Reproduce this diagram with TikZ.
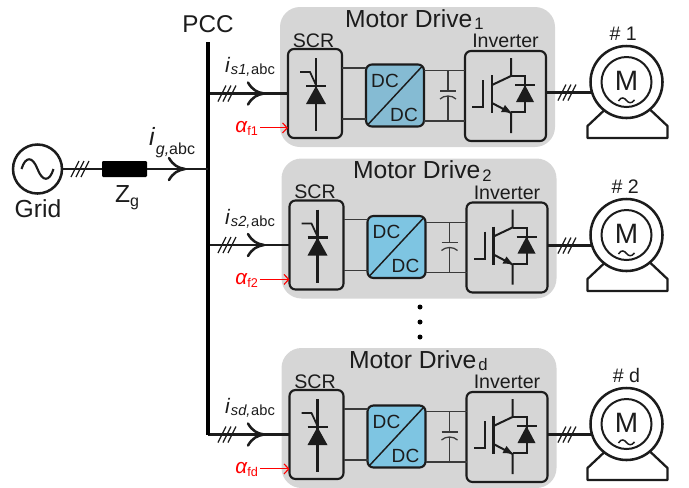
\documentclass[tikz,border=0pt]{standalone}
\usepackage{fontspec}
\setmainfont{Liberation Sans}
\usetikzlibrary{calc,arrows.meta}
\newcommand\pxu{0.75pt}
\newcommand\fsz[1]{\fontsize{#1}{#1}\selectfont}
\definecolor{drivegray}{HTML}{D6D6D6}
\definecolor{inkdark}{HTML}{1C1C1C}
\definecolor{wiregray}{HTML}{3A3A3A}
\definecolor{dcblueA}{HTML}{85BBD3}
\definecolor{dcblueB}{HTML}{7EC5E2}
\tikzset{
  x=0.75pt,y=-0.75pt,
  power/.style={draw=inkdark,line width=1.9pt},
  wire/.style={draw=wiregray,line width=0.95pt},
  sym/.style={draw=inkdark,line width=1.7pt},
  hashline/.style={draw=inkdark,line width=0.9pt},
  labeltext/.style={inner sep=0pt,outer sep=0pt,text=inkdark},
  graybox/.style={rectangle,fill=drivegray,rounded corners=15pt,minimum width=275*\pxu,minimum height=140*\pxu,inner sep=0pt,outer sep=0pt},
  blockbox/.style={rectangle,draw=inkdark,line width=1.6pt,rounded corners=4.5pt,inner sep=0pt,outer sep=0pt},
  motorring/.style={circle,draw=inkdark,fill=white,line width=1.9pt,minimum size=72*\pxu,inner sep=0pt,outer sep=0pt},
  rotorring/.style={circle,draw=inkdark,line width=1.5pt,minimum size=50*\pxu,inner sep=0pt,outer sep=0pt},
  hashmark/.pic={
    \draw[hashline] (-9,8) -- (-1,-8) (-4,8) -- (4,-8) (1,8) -- (9,-8);
  },
  chevron/.pic={
    \draw[power,line cap=round,line join=round] (-16,-11) .. controls (-12,-4) and (-7,-1) .. (0,0) .. controls (-7,1) and (-12,4) .. (-16,11);
  },
}
% #1 suffix, #2 dx, #3 dy, #4 title x, #5 subscript, #6 blue, #7 motor label, #8 motor y, #9 current subscript
\newcommand\drivegroup[9]{
  \begin{scope}[shift={(#2,#3)}]
    \node[graybox] (drive#1) at (417.5,77) {};
    \node[blockbox,minimum width=54*\pxu,minimum height=89*\pxu] (scr#1) at (315,93.5) {};
    \node[blockbox,fill=#6,minimum width=58*\pxu,minimum height=62*\pxu] (dc#1) at (395,95.5) {};
    \node[blockbox,minimum width=81*\pxu,minimum height=90*\pxu] (inv#1) at (505.5,96) {};
    \node[labeltext,anchor=base west] (title#1) at (#4,27) {\fsz{18.5}Motor Drive\kern1.5pt\raisebox{-2pt}{\fsz{12.5}#5}};
    \node[labeltext,anchor=base] (scrlabel#1) at (313.5,47) {\fsz{14.7}SCR};
    \node[labeltext,anchor=base] (invlabel#1) at (505.5,47.5) {\fsz{14.7}Inverter};
    \node[labeltext,anchor=base] (dctop#1) at (385,87) {\fsz{14.3}DC};
    \node[labeltext,anchor=base] (dcbot#1) at (404,121) {\fsz{14.3}DC};
    \draw[wire] ([yshift=19.1pt]scr#1.east) -- ([yshift=19.1pt]scr#1.east -| dc#1.west);
    \draw[wire] ([yshift=-19.1pt]scr#1.east) -- ([yshift=-19.1pt]scr#1.east -| dc#1.west);
    \draw[wire] ([yshift=18.6pt]dc#1.east) -- ([yshift=18.6pt]dc#1.east -| inv#1.west);
    \draw[wire] ([yshift=-19.1pt]dc#1.east) -- ([yshift=-19.1pt]dc#1.east -| inv#1.west);
    \draw[line width=1.1pt,draw=inkdark] ([xshift=1.5pt,yshift=1.5pt]dc#1.south west) -- ([xshift=-1.5pt,yshift=-1.5pt]dc#1.north east);
    % capacitor
    \draw[wire] (448,71) -- (448,91) (448,96) -- (448,121);
    \draw[wire] (440,91) -- (456,91);
    \draw[wire] (440,99) .. controls (444,95) and (452,95) .. (456,99);
    % SCR symbol
    \draw[sym] (316,58) -- (316,131);
    \draw[sym] (306,86) -- (326,86);
    \fill[inkdark] (316,86) -- (306,104) -- (326,104) -- cycle;
    \draw[sym,line width=1.3pt] (300,72) -- (310,72) -- (316,85);
    % IGBT symbol
    \draw[sym,line width=1.9pt] (492,75) -- (492,113);
    \draw[sym,line width=1.5pt] (483,80) -- (483,107) -- (472,107);
    \draw[sym,line width=1.5pt] (511,58) -- (511,76) -- (492,85);
    \draw[sym,line width=1.5pt] (492,103) -- (511,113) -- (511,133);
    \fill[inkdark] (511,112.5) -- (501,112) -- (505,105) -- cycle;
    \draw[sym,line width=1.5pt] (511,76) -- (525,76) -- (525,112) -- (511,112);
    \fill[inkdark] (525,85) -- (516,102) -- (534,102) -- cycle;
    \draw[sym,line width=1.5pt] (515,85) -- (535,85);
  \end{scope}
  % feeder from the bus
  \draw[power] (bustop |- scr#1.west) -- (scr#1.west);
  \pic at (227,0 |- scr#1.west) {hashmark};
  \pic at (264,0 |- scr#1.west) {chevron};
  \node[labeltext,anchor=base west,yshift=15.6pt] (ilabel#1) at (225,0 |- scr#1.west) {\fsz{15.7}\itshape i\kern1pt\raisebox{-1.5pt}{\fsz{11}#9\kern0.5pt\upshape abc}};
  \node[labeltext,anchor=base east,text=red,yshift=-29.6pt] (alpha#1) at (258,0 |- scr#1.west) {\fsz{15.5}\itshape α\kern0.3pt\raisebox{-2pt}{\fsz{9.5}\upshape f#5}};
  \draw[red,line width=0.85pt,-{Straight Barb[length=3.5pt,width=7.5pt]}] ([xshift=1.5pt,yshift=3.8pt]alpha#1.base east) -- ([yshift=3.8pt]alpha#1.base east -| scr#1.west);
  % motor
  \begin{scope}[shift={(626.5,#8)}]
    \draw[power,line join=round,line width=1.7pt] (-22,28) -- (-39,44) -- (-39,56) -- (41,56) -- (41,44) -- (24,28);
  \end{scope}
  \node[motorring] (motor#1) at (626.5,#8) {};
  \node[rotorring] (rotor#1) at (motor#1.center) {};
  \node[labeltext,yshift=1pt] (mlabel#1) at (motor#1.center) {\fsz{21}M};
  \draw[line width=1.1pt,draw=inkdark,shift={(motor#1.center)}] (-8,19) .. controls (-5,14) and (-2,16) .. (0,18.5) .. controls (2,21) and (5,22) .. (8,18);
  \node[labeltext,anchor=base] (mnum#1) at ([yshift=31pt]motor#1.center) {\fsz{14.7}#7};
  \draw[power] (motor#1.197.8 -| inv#1.east) -- (motor#1.197.8);
  \pic at (567,0 |- motor#1.197.8) {hashmark};
}
\begin{document}
\begin{tikzpicture}
\useasboundingbox (0,0) rectangle (689,487);
\coordinate (bustop) at (208,42);
\coordinate (busbot) at (208,434.5);
\drivegroup{a}{0}{0}{345}{1}{dcblueA}{\kern-5pt\# 1}{82}{s1,}
\drivegroup{b}{1.5}{151.5}{351.5}{2}{dcblueB}{\kern-2pt\# 2}{235}{s2,}
\drivegroup{c}{1.5}{341}{347.5}{d}{dcblueB}{\# d}{424}{sd,}
\draw[draw=black,line width=3pt] (bustop) -- (busbot);
\node[labeltext,anchor=base] (pcc) at (208,32) {\fsz{18.2}PCC};
% source side
\node[circle,draw=inkdark,line width=1.9pt,minimum size=49*\pxu,inner sep=0pt,outer sep=0pt] (grid) at (37.5,169) {};
\draw[line width=1.6pt,draw=inkdark,shift={(grid.center)}] (-16,0) .. controls (-12,-13) and (-5,-13) .. (0,0) .. controls (5,13) and (12,13) .. (16,0);
\node[labeltext,anchor=base] (gridlabel) at (38,217) {\fsz{18.5}Grid};
\node[rectangle,fill=black,rounded corners=0.8pt,minimum width=45*\pxu,minimum height=16*\pxu,inner sep=0pt,outer sep=0pt] (zg) at (124.5,169) {};
\coordinate (busfeed) at (bustop |- grid.east);
\draw[power] (grid.east) -- (zg.west);
\draw[power] (zg.east) -- (busfeed);
\pic at (80,169) {hashmark};
\pic at (185,169) {chevron};
\node[labeltext,anchor=base west] (zlabel) at (115,202) {\fsz{18.5}Z\raisebox{-3pt}{\fsz{12}g}};
\node[labeltext,anchor=base west] (iglabel) at (149,145) {\fsz{18.7}\itshape i\kern1pt\raisebox{-7pt}{\fsz{12}g,\upshape abc}};
% ellipsis dots
\fill[black] (420,307) circle (2.5);
\fill[black] (420,322) circle (2.5);
\fill[black] (420,337) circle (2.5);
\end{tikzpicture}
\end{document}
